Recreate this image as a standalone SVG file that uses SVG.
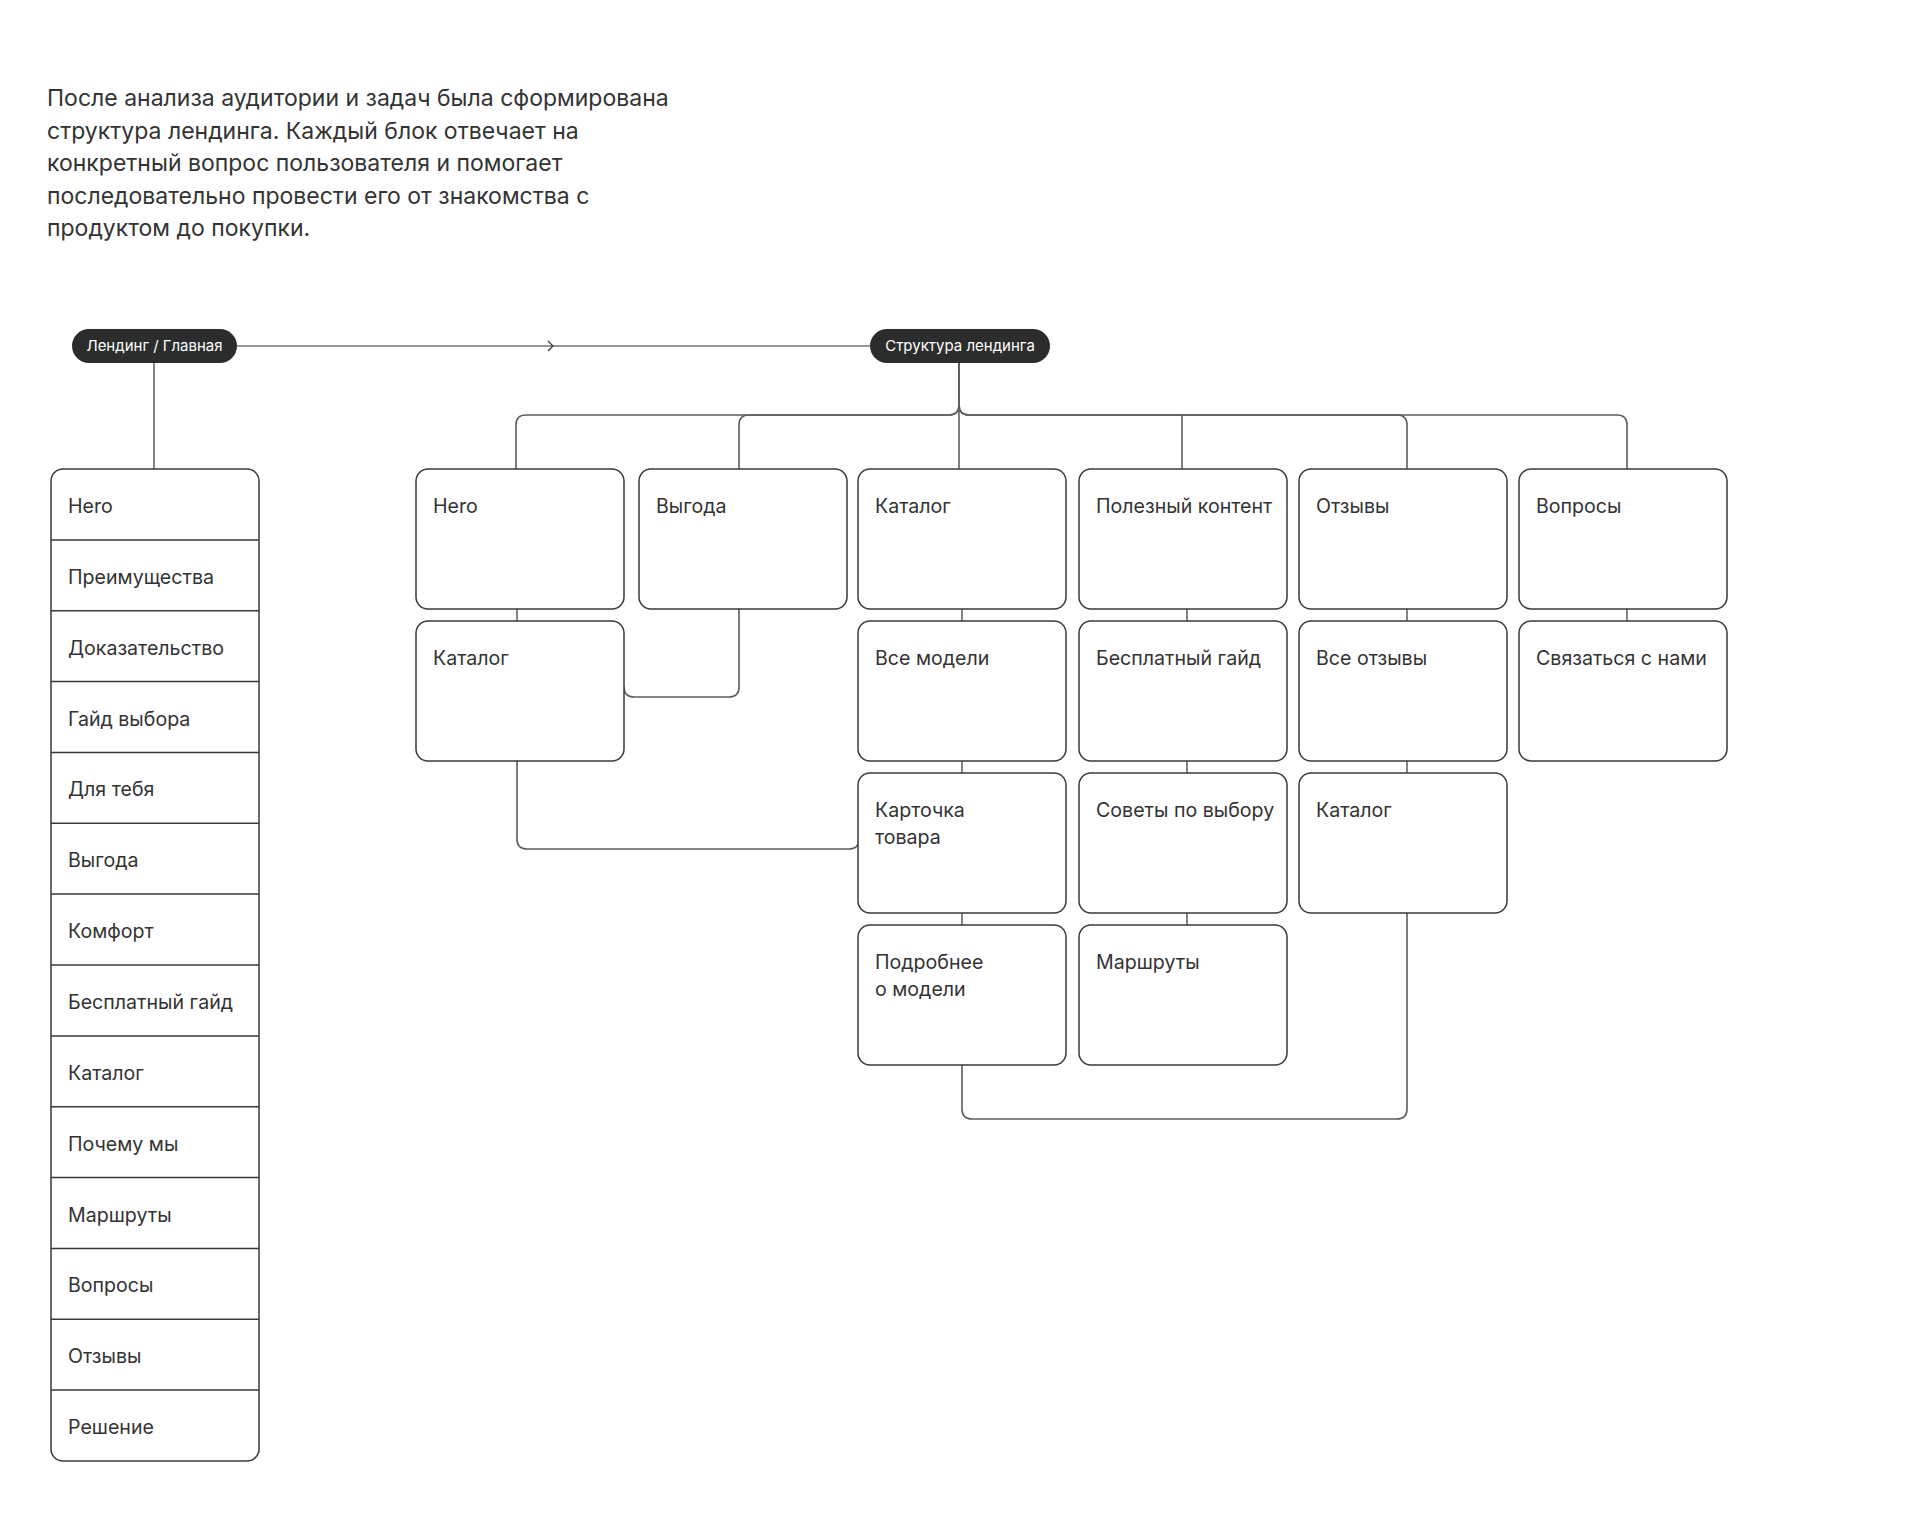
<svg xmlns="http://www.w3.org/2000/svg" width="1920" height="1527" viewBox="0 0 1920 1527">
<style>
  .bg{fill:#ffffff}
  .para{font-family:Inter,"Noto Sans","Liberation Sans",sans-serif;font-size:23px;fill:#333333}
  .pill{fill:#2b2d2c}
  .pilltxt{font-family:Inter,"Noto Sans","Liberation Sans",sans-serif;font-size:15px;fill:#ffffff;text-anchor:middle}
  .box{fill:#ffffff;stroke:#3a3a3a;stroke-width:1.5}
  .div{stroke:#3a3a3a;stroke-width:1.5;fill:none}
  .lbl{font-family:Inter,"Noto Sans","Liberation Sans",sans-serif;font-size:19.6px;fill:#333333}
  .con{fill:none;stroke:#5e5e5e;stroke-width:1.6}
  .thin{fill:none;stroke:#333333;stroke-width:1.2}
</style>
<rect class="bg" x="0" y="0" width="1920" height="1527"/>

<g id="intro">
  <text class="para" x="47" y="106">После анализа аудитории и задач была сформирована</text>
  <text class="para" x="47" y="138.5">структура лендинга. Каждый блок отвечает на</text>
  <text class="para" x="47" y="171">конкретный вопрос пользователя и помогает</text>
  <text class="para" x="47" y="203.5">последовательно провести его от знакомства с</text>
  <text class="para" x="47" y="236">продуктом до покупки.</text>
</g>

<g id="connectors">
  <path class="thin" d="M237,346 H870"/>
  <path class="thin" d="M548,341 L553,346 L548,351"/>
  <path class="thin" d="M154,363 V469"/>
  <path class="con" d="M959,363 V405 Q959,415 949,415 H526 Q516,415 516,425 V469"/>
  <path class="con" d="M959,363 V405 Q959,415 949,415 H749 Q739,415 739,425 V469"/>
  <path class="con" d="M959,363 V469"/>
  <path class="con" d="M959,363 V405 Q959,415 969,415 H1617 Q1627,415 1627,425 V469"/>
  <path class="con" d="M959,363 V405 Q959,415 969,415 H1397 Q1407,415 1407,425 V469"/>
  <path class="con" d="M1182,415 V469"/>
  <path class="thin" d="M517,609 V621"/>
  <path class="thin" d="M962,609 V621 M962,761 V773 M962,913 V925"/>
  <path class="thin" d="M1187,609 V621 M1187,761 V773 M1187,913 V925"/>
  <path class="thin" d="M1407,609 V621 M1407,761 V773"/>
  <path class="thin" d="M1627,609 V621"/>
  <path class="con" d="M739,609 V687 Q739,697 729,697 H634 Q624,697 624,687"/>
  <path class="con" d="M517,761 V839 Q517,849 527,849 H849 Q859,849 859,839"/>
  <path class="con" d="M962,1065 V1109 Q962,1119 972,1119 H1397 Q1407,1119 1407,1109 V913"/>
</g>

<g id="pill-landing">
  <rect class="pill" x="72" y="329" width="165" height="34" rx="17"/>
  <text class="pilltxt" x="154.5" y="351">Лендинг / Главная</text>
</g>
<g id="pill-structure">
  <rect class="pill" x="870" y="329" width="180" height="34" rx="17"/>
  <text class="pilltxt" x="960" y="351">Структура лендинга</text>
</g>

<g id="landing-list">
  <rect class="box" x="51" y="469" width="208" height="992" rx="12"/>
  <path class="div" d="M51,539.9 H259 M51,610.7 H259 M51,681.6 H259 M51,752.4 H259 M51,823.3 H259 M51,894.1 H259 M51,965 H259 M51,1035.9 H259 M51,1106.7 H259 M51,1177.6 H259 M51,1248.4 H259 M51,1319.3 H259 M51,1390.1 H259"/>
  <g id="list-hero"><text class="lbl" x="68" y="513">Hero</text></g>
  <g id="list-advantages"><text class="lbl" x="68" y="583.9">Преимущества</text></g>
  <g id="list-proof"><text class="lbl" x="68" y="654.7">Доказательство</text></g>
  <g id="list-guide"><text class="lbl" x="68" y="725.6">Гайд выбора</text></g>
  <g id="list-foryou"><text class="lbl" x="68" y="796.4">Для тебя</text></g>
  <g id="list-benefit"><text class="lbl" x="68" y="867.3">Выгода</text></g>
  <g id="list-comfort"><text class="lbl" x="68" y="938.1">Комфорт</text></g>
  <g id="list-freeguide"><text class="lbl" x="68" y="1009">Бесплатный гайд</text></g>
  <g id="list-catalog"><text class="lbl" x="68" y="1079.9">Каталог</text></g>
  <g id="list-whyus"><text class="lbl" x="68" y="1150.7">Почему мы</text></g>
  <g id="list-routes"><text class="lbl" x="68" y="1221.6">Маршруты</text></g>
  <g id="list-questions"><text class="lbl" x="68" y="1292.4">Вопросы</text></g>
  <g id="list-reviews"><text class="lbl" x="68" y="1363.3">Отзывы</text></g>
  <g id="list-solution"><text class="lbl" x="68" y="1434.1">Решение</text></g>
</g>

<g id="node-hero"><rect class="box" x="416" y="469" width="208" height="140" rx="12"/><text class="lbl" x="433" y="513">Hero</text></g>
<g id="node-benefit"><rect class="box" x="639" y="469" width="208" height="140" rx="12"/><text class="lbl" x="656" y="513">Выгода</text></g>
<g id="node-catalog"><rect class="box" x="858" y="469" width="208" height="140" rx="12"/><text class="lbl" x="875" y="513">Каталог</text></g>
<g id="node-content"><rect class="box" x="1079" y="469" width="208" height="140" rx="12"/><text class="lbl" x="1096" y="513">Полезный контент</text></g>
<g id="node-reviews"><rect class="box" x="1299" y="469" width="208" height="140" rx="12"/><text class="lbl" x="1316" y="513">Отзывы</text></g>
<g id="node-questions"><rect class="box" x="1519" y="469" width="208" height="140" rx="12"/><text class="lbl" x="1536" y="513">Вопросы</text></g>
<g id="node-hero-catalog"><rect class="box" x="416" y="621" width="208" height="140" rx="12"/><text class="lbl" x="433" y="665">Каталог</text></g>
<g id="node-all-models"><rect class="box" x="858" y="621" width="208" height="140" rx="12"/><text class="lbl" x="875" y="665">Все модели</text></g>
<g id="node-free-guide"><rect class="box" x="1079" y="621" width="208" height="140" rx="12"/><text class="lbl" x="1096" y="665">Бесплатный гайд</text></g>
<g id="node-all-reviews"><rect class="box" x="1299" y="621" width="208" height="140" rx="12"/><text class="lbl" x="1316" y="665">Все отзывы</text></g>
<g id="node-contact"><rect class="box" x="1519" y="621" width="208" height="140" rx="12"/><text class="lbl" x="1536" y="665">Связаться с нами</text></g>
<g id="node-product-card"><rect class="box" x="858" y="773" width="208" height="140" rx="12"/><text class="lbl" x="875" y="817">Карточка</text><text class="lbl" x="875" y="844">товара</text></g>
<g id="node-tips"><rect class="box" x="1079" y="773" width="208" height="140" rx="12"/><text class="lbl" x="1096" y="817">Советы по выбору</text></g>
<g id="node-reviews-catalog"><rect class="box" x="1299" y="773" width="208" height="140" rx="12"/><text class="lbl" x="1316" y="817">Каталог</text></g>
<g id="node-model-details"><rect class="box" x="858" y="925" width="208" height="140" rx="12"/><text class="lbl" x="875" y="969">Подробнее</text><text class="lbl" x="875" y="996">о модели</text></g>
<g id="node-routes"><rect class="box" x="1079" y="925" width="208" height="140" rx="12"/><text class="lbl" x="1096" y="969">Маршруты</text></g>
</svg>
